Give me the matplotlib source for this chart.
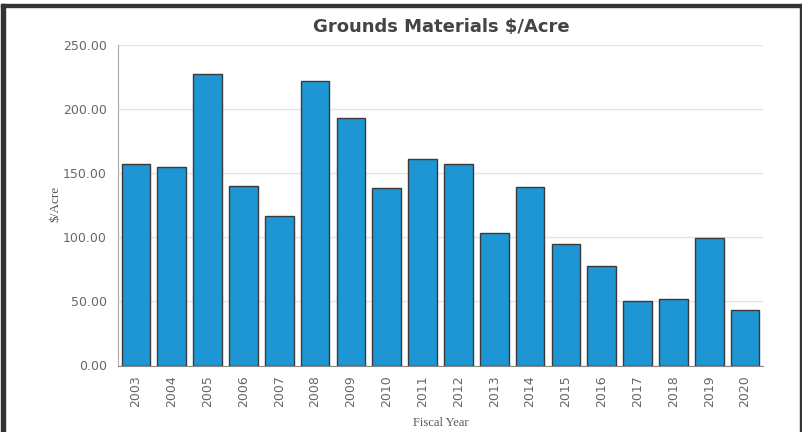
import numpy as np
import matplotlib
matplotlib.use('Agg')
import matplotlib.pyplot as plt
from matplotlib.patches import Rectangle

years = ['2003', '2004', '2005', '2006', '2007', '2008', '2009', '2010', '2011',
         '2012', '2013', '2014', '2015', '2016', '2017', '2018', '2019', '2020']
cost_per_acre = [157.2, 154.8, 227.5, 140.2, 116.3, 222.0, 192.8, 138.4, 161.3,
                 157.2, 103.0, 139.2, 94.9, 77.5, 50.6, 51.7, 99.4, 43.4]
y_ticks = [0, 50, 100, 150, 200, 250]

W, H = 803, 432
fig = plt.figure(figsize=(W / 100, H / 100), dpi=100)
ax = fig.add_axes([118 / W, 66.5 / H, 645 / W, 320.5 / H])

x = np.arange(len(years))
ax.bar(x, cost_per_acre, width=0.8, color='#1e96d3', edgecolor='#3a3a3a',
       linewidth=1, zorder=3)

ax.set_xlim(-0.5, len(years) - 0.5)
ax.set_ylim(0, 250)
ax.set_yticks(y_ticks)
ax.set_yticklabels(['%.2f' % v for v in y_ticks])
ax.set_xticks(x)
ax.set_xticklabels(years, rotation=90)

ax.grid(axis='y', color='#e4e4e4', linewidth=1, zorder=0)
ax.set_axisbelow(True)
for side in ['top', 'right']:
    ax.spines[side].set_visible(False)
ax.spines['left'].set_color('#aaaaaa')
ax.spines['bottom'].set_color('#888888')
ax.tick_params(axis='both', length=0, colors='#666666', labelsize=9)
ax.tick_params(axis='y', pad=8)
ax.tick_params(axis='x', pad=7)

fig.text(441 / W, 1 - 27 / H, 'Grounds Materials $/Acre', ha='center', va='center',
         fontsize=13, fontweight='bold', color='#444444')
fig.text(55 / W, 1 - 204 / H, '$/Acre', rotation=90, ha='center', va='center',
         fontsize=9.5, family='Liberation Serif', color='#555555')
fig.text(441 / W, 1 - 423 / H, 'Fiscal Year', ha='center', va='center',
         fontsize=9, family='Liberation Serif', color='#555555')

# outer frame
fig.patches.append(Rectangle((1 / W, 0), 4 / W, 1 - 4 / H, transform=fig.transFigure,
                             color='#333333', zorder=10))
fig.patches.append(Rectangle((1 / W, 1 - 7 / H), 802 / W, 3 / H, transform=fig.transFigure,
                             color='#333333', zorder=10))
fig.patches.append(Rectangle((800 / W, 0), 2 / W, 1 - 4 / H, transform=fig.transFigure,
                             color='#333333', zorder=10))

fig.savefig('out.png', dpi=100)
